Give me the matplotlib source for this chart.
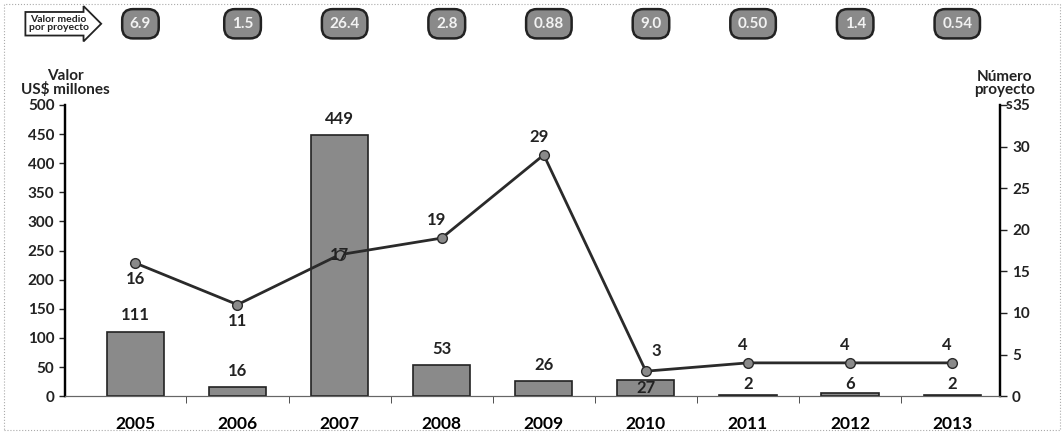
import numpy as np
import matplotlib
matplotlib.use("Agg")
from matplotlib import pyplot as plt
from matplotlib import transforms
from matplotlib.patches import Rectangle

years = ["2005", "2006", "2007", "2008", "2009", "2010", "2011", "2012", "2013"]
valor = [111, 16, 449, 53, 26, 27, 2, 6, 2]
proyectos = [16, 11, 17, 19, 29, 3, 4, 4, 4]
medio = ["6.9", "1.5", "26.4", "2.8", "0.88", "9.0", "0.50", "1.4", "0.54"]

plt.rcParams['font.family'] = ['Lato', 'DejaVu Sans']
plt.rcParams['font.weight'] = 'bold'

fig = plt.figure(figsize=(10.64, 4.32), dpi=100)
ax = fig.add_axes([0.061, 0.083, 0.879, 0.674])
ax2 = ax.twinx()

x = np.arange(len(years))
ax.bar(x, valor, width=0.56, color="#8a8a8a", edgecolor="#222222", linewidth=1.2, zorder=2)
ax.set_ylim(0, 500)
ax.set_yticks(np.arange(0, 501, 50))
ax.set_xlim(-0.69, 8.47)
ax.set_xticks(x)
ax.set_xticklabels(years, fontsize=12.5)
ax.set_xticks(x[:-1] + 0.5, minor=True)
ax.tick_params(axis='x', which='major', length=0, pad=14)
ax.tick_params(axis='x', which='minor', length=5, direction='out', color="#333333")
ax.tick_params(axis='y', labelsize=11, length=4, width=1, colors="#222222")

ax2.plot(x, proyectos, color="#2a2a2a", linewidth=2, marker='o', markersize=7,
         markerfacecolor="#8a8a8a", markeredgecolor="#2a2a2a", zorder=3)
ax2.set_ylim(0, 35)
ax2.set_yticks(np.arange(0, 36, 5))
ax2.tick_params(axis='y', labelsize=11, length=5, width=1, colors="#222222")

for a in (ax, ax2):
    a.spines['top'].set_visible(False)
    a.spines['left'].set_linewidth(1.6)
    a.spines['right'].set_linewidth(1.6)
    a.spines['bottom'].set_color("#666666")

# etiquetas de barras
for i, v in enumerate(valor):
    if years[i] == "2010":
        ax.text(i, v / 2, str(v), ha='center', va='center', fontsize=12, color="#222222", zorder=4)
    elif v < 10:
        ax2.text(i, proyectos[i] - 1.6, str(v), ha='center', va='top', fontsize=12, color="#222222")
    else:
        ax.text(i, v + 14, str(v), ha='center', va='bottom', fontsize=12, color="#222222")

# etiquetas de la linea
below = {"2005", "2006"}
for i, p in enumerate(proyectos):
    if years[i] in below:
        ax2.text(i, p - 1.0, str(p), ha='center', va='top', fontsize=12, color="#222222")
    elif years[i] == "2007":
        ax2.text(i, p, str(p), ha='center', va='center', fontsize=12, color="#222222", zorder=5)
    elif years[i] == "2010":
        ax2.text(i + 0.1, p + 1.5, str(p), ha='center', va='bottom', fontsize=12, color="#222222")
    else:
        ax2.text(i - 0.05, p + 1.2, str(p), ha='center', va='bottom', fontsize=12, color="#222222")

# titulos de ejes
fig.text(0.061, 0.775, "Valor\nUS$ millones", ha='center', va='bottom', fontsize=11,
         color="#222222", linespacing=0.95)
fig.text(0.944, 0.775, "Número\nproyecto", ha='center', va='bottom', fontsize=11,
         color="#222222", linespacing=0.95)
fig.text(0.948, 0.757, "s", ha='center', va='center', fontsize=11, color="#222222")

# valor medio por proyecto
trans = transforms.blended_transform_factory(ax.transData, fig.transFigure)
for i, m in enumerate(medio):
    ax.text(i + 0.05, 0.945, m, transform=trans, ha='center', va='center', fontsize=11,
            color="#f2f2f2", clip_on=False,
            bbox=dict(boxstyle="round,pad=0.5,rounding_size=0.7", fc="#8a8a8a",
                      ec="#222222", lw=1.8))
fig.text(0.055, 0.945, "Valor medio\npor proyecto", ha='center', va='center', fontsize=7.5,
         color="#222222", linespacing=0.9,
         bbox=dict(boxstyle="rarrow,pad=0.3", fc="white", ec="#222222", lw=1.3))

fig.patches.append(Rectangle((0.004, 0.005), 0.992, 0.985, transform=fig.transFigure,
                             fill=False, ec="#aaaaaa", lw=0.8, ls=':'))

fig.savefig("out.png", dpi=100)
